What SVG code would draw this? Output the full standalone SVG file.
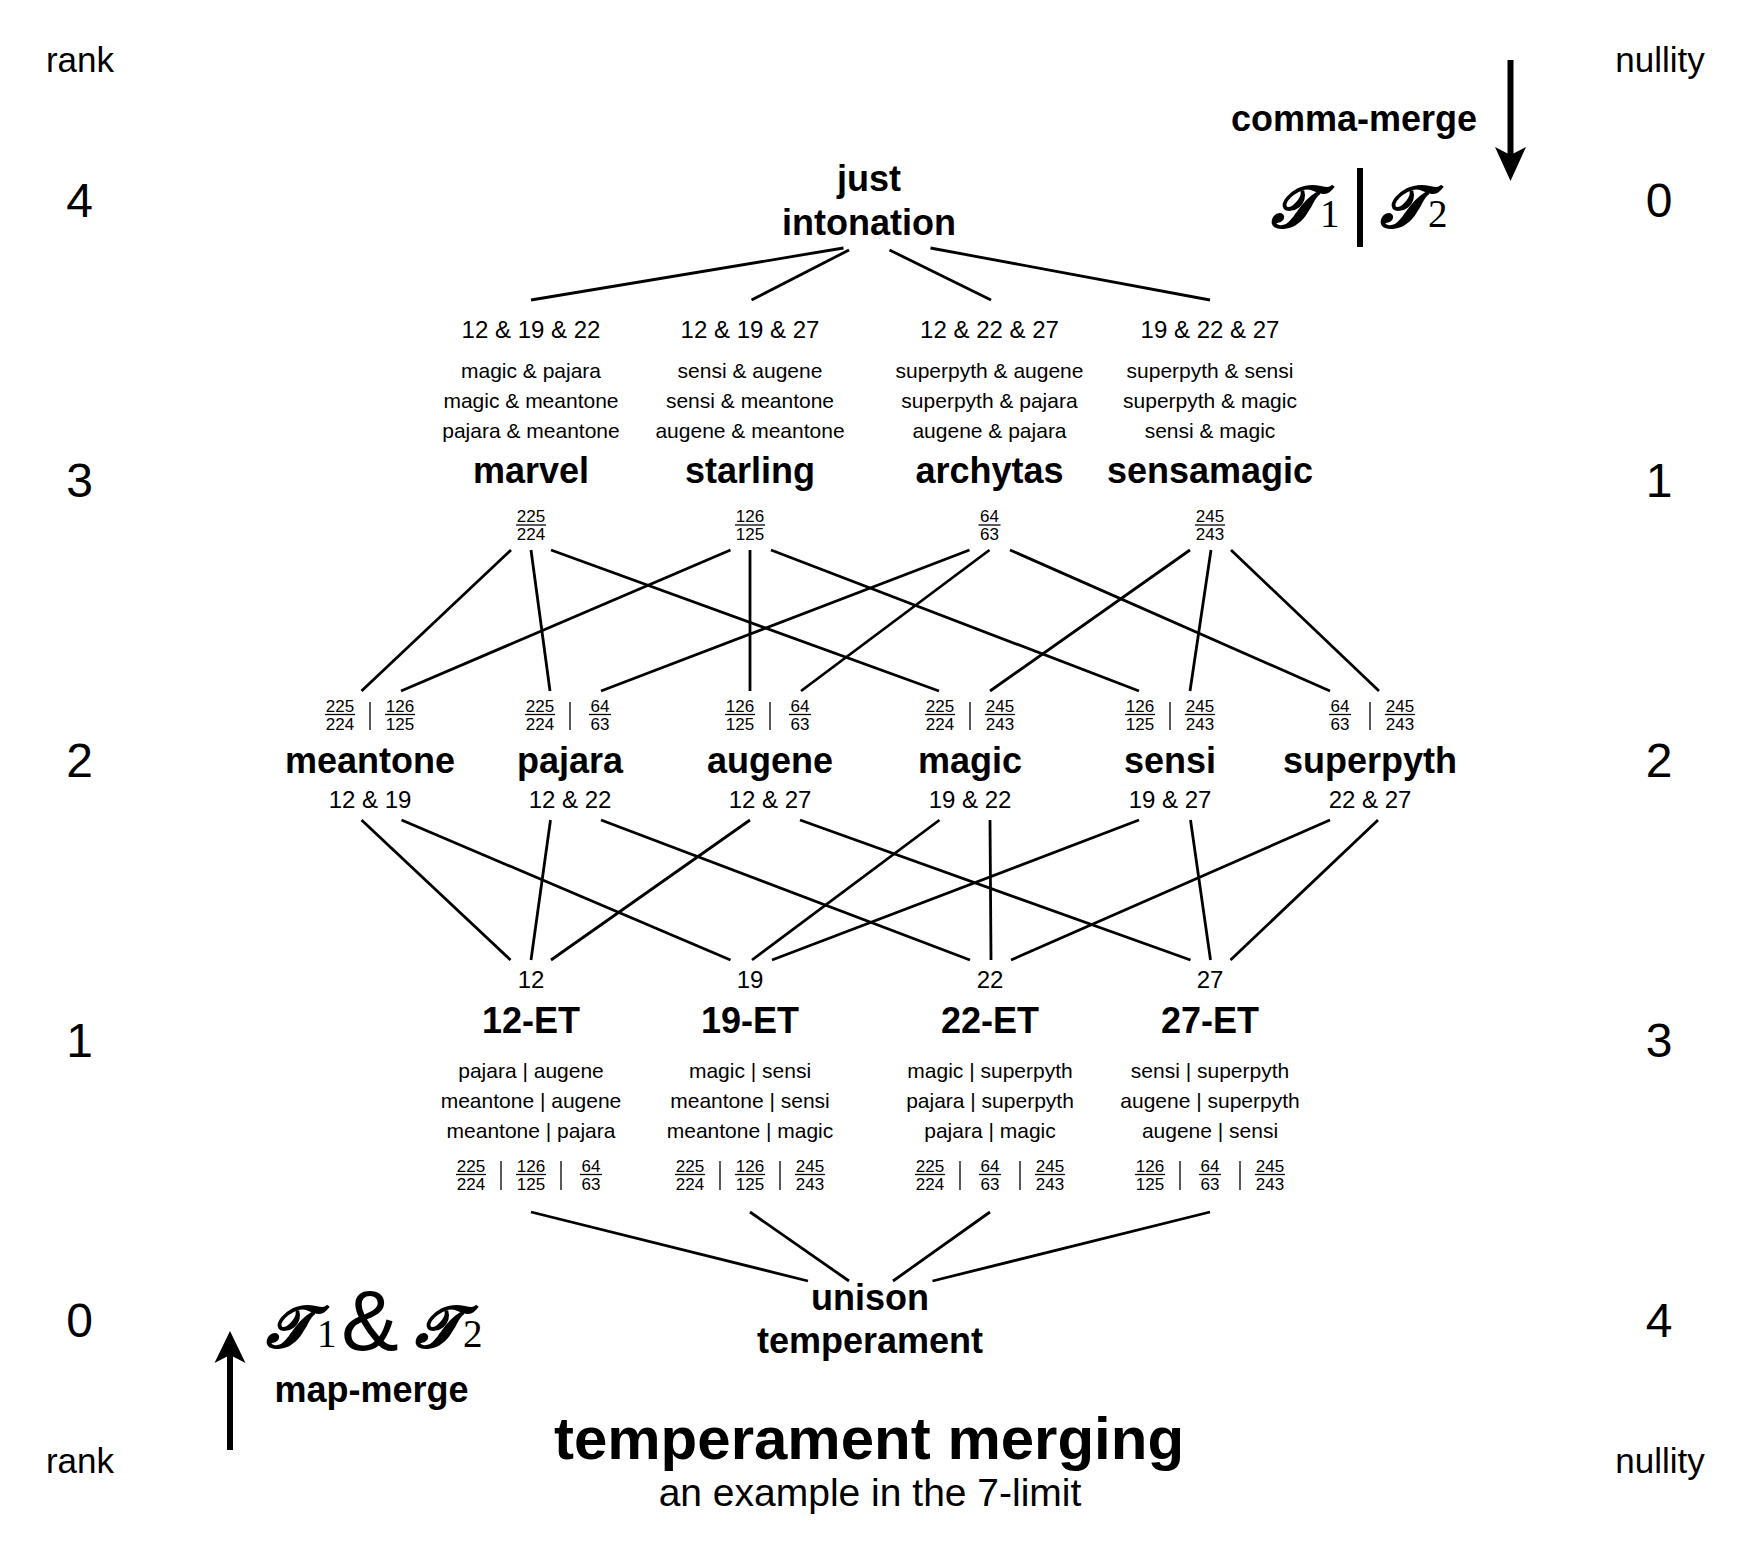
<svg xmlns="http://www.w3.org/2000/svg" width="1752" height="1551" viewBox="0 0 1752 1551">
<style>
text{font-family:"Liberation Sans",Arial,sans-serif;fill:#000}
.c{text-anchor:middle}
.ax{font-size:35px}
.num{font-size:48px}
.b{font-weight:bold;font-size:36px}
.s24{font-size:24px}
.s21{font-size:21px}
.fr{font-size:17px;text-anchor:middle}
.bar,.sep{stroke:#000;stroke-width:1.3}
.edge{stroke:#000;stroke-width:2.8;fill:none}
.math{font-family:"DejaVu Serif","Liberation Serif",serif;font-weight:bold;font-style:italic;font-size:58px}
.sub{font-family:"Liberation Serif","Times New Roman",serif;font-size:39px}
</style>

<g id="axes">
<text class="ax c" x="80" y="72">rank</text>
<text class="ax c" x="80" y="1473">rank</text>
<text class="ax c" x="1660" y="72">nullity</text>
<text class="ax c" x="1660" y="1473">nullity</text>
<text class="num c" x="79.5" y="217">4</text>
<text class="num c" x="79.5" y="497">3</text>
<text class="num c" x="79.5" y="777">2</text>
<text class="num c" x="79.5" y="1057">1</text>
<text class="num c" x="79.5" y="1337">0</text>
<text class="num c" x="1659" y="217">0</text>
<text class="num c" x="1659" y="497">1</text>
<text class="num c" x="1659" y="777">2</text>
<text class="num c" x="1659" y="1057">3</text>
<text class="num c" x="1659" y="1337">4</text>
</g>

<g id="comma-merge">
<text class="b c" x="1354" y="131">comma-merge</text>
<line x1="1510.5" y1="60" x2="1510.5" y2="158" stroke="#000" stroke-width="6"/>
<path d="M1495,147 L1510.5,155 L1526,147 L1510.5,181 Z" fill="#000"/>
<text class="math" x="1271" y="227">𝓣</text>
<text class="sub" x="1320" y="227">1</text>
<line x1="1360" y1="168" x2="1360" y2="247" stroke="#000" stroke-width="6"/>
<text class="math" x="1380" y="227">𝓣</text>
<text class="sub" x="1428" y="227">2</text>
</g>

<g id="map-merge">
<line x1="230" y1="1450" x2="230" y2="1355" stroke="#000" stroke-width="6"/>
<path d="M214.5,1363 L230,1355 L245.5,1363 L230,1331 Z" fill="#000"/>
<text class="math" x="266" y="1347">𝓣</text>
<text class="sub" x="317" y="1347">1</text>
<text x="370" y="1350" style="font-size:86px" class="c">&amp;</text>
<text class="math" x="415" y="1347">𝓣</text>
<text class="sub" x="463" y="1347">2</text>
<text class="b c" x="371.5" y="1402">map-merge</text>
</g>

<g id="title">
<text class="c" x="869" y="1459" style="font-size:60px;font-weight:bold">temperament merging</text>
<text class="c" x="870" y="1506" style="font-size:39px">an example in the 7-limit</text>
</g>

<g id="connectors">
<line class="edge" x1="843.5" y1="248" x2="531" y2="300"/>
<line class="edge" x1="849" y1="250" x2="751.5" y2="300"/>
<line class="edge" x1="889.5" y1="250" x2="991" y2="300"/>
<line class="edge" x1="930.5" y1="248" x2="1210" y2="300"/>

<line class="edge" x1="511" y1="550" x2="361.5" y2="691"/>
<line class="edge" x1="531" y1="550" x2="550" y2="691"/>
<line class="edge" x1="551" y1="550" x2="939" y2="691"/>
<line class="edge" x1="730.5" y1="550" x2="401" y2="691"/>
<line class="edge" x1="750" y1="550" x2="750" y2="691"/>
<line class="edge" x1="771" y1="550" x2="1139" y2="691"/>
<line class="edge" x1="969.5" y1="550" x2="601" y2="691"/>
<line class="edge" x1="989.5" y1="550" x2="801" y2="691"/>
<line class="edge" x1="1010" y1="550" x2="1330" y2="691"/>
<line class="edge" x1="1190" y1="550" x2="990" y2="691"/>
<line class="edge" x1="1211" y1="550" x2="1190" y2="691"/>
<line class="edge" x1="1231" y1="550" x2="1379" y2="691"/>

<line class="edge" x1="361.5" y1="820" x2="510.5" y2="960"/>
<line class="edge" x1="401.5" y1="820" x2="730.5" y2="960"/>
<line class="edge" x1="550.5" y1="820" x2="531" y2="960"/>
<line class="edge" x1="601" y1="820" x2="970" y2="960"/>
<line class="edge" x1="750" y1="820" x2="551" y2="960"/>
<line class="edge" x1="800" y1="820" x2="1190.5" y2="960"/>
<line class="edge" x1="939.5" y1="820" x2="752" y2="960"/>
<line class="edge" x1="990" y1="820" x2="991" y2="960"/>
<line class="edge" x1="1139" y1="820" x2="772" y2="960"/>
<line class="edge" x1="1190.5" y1="820" x2="1210.5" y2="960"/>
<line class="edge" x1="1330" y1="820" x2="1011" y2="960"/>
<line class="edge" x1="1378" y1="820" x2="1230.5" y2="960"/>

<line class="edge" x1="531" y1="1212" x2="808" y2="1281"/>
<line class="edge" x1="750" y1="1212" x2="849" y2="1281"/>
<line class="edge" x1="990" y1="1212" x2="893" y2="1281"/>
<line class="edge" x1="1210" y1="1212" x2="932.5" y2="1281"/>
</g>

<g id="just-intonation">
<text class="b c" x="869" y="191">just</text>
<text class="b c" x="869" y="235">intonation</text>
</g>

<g id="marvel">
<text class="s24 c" x="531" y="338">12 &amp; 19 &amp; 22</text>
<text class="s21 c" x="531" y="378">magic &amp; pajara</text>
<text class="s21 c" x="531" y="408">magic &amp; meantone</text>
<text class="s21 c" x="531" y="438">pajara &amp; meantone</text>
<text class="b c" x="531" y="483">marvel</text>
<text class="fr" x="531" y="521.5">225</text><line class="bar" x1="516" y1="525" x2="546" y2="525"/><text class="fr" x="531" y="540">224</text>
</g>
<g id="starling">
<text class="s24 c" x="750" y="338">12 &amp; 19 &amp; 27</text>
<text class="s21 c" x="750" y="378">sensi &amp; augene</text>
<text class="s21 c" x="750" y="408">sensi &amp; meantone</text>
<text class="s21 c" x="750" y="438">augene &amp; meantone</text>
<text class="b c" x="750" y="483">starling</text>
<text class="fr" x="750" y="521.5">126</text><line class="bar" x1="735" y1="525" x2="765" y2="525"/><text class="fr" x="750" y="540">125</text>
</g>
<g id="archytas">
<text class="s24 c" x="989.5" y="338">12 &amp; 22 &amp; 27</text>
<text class="s21 c" x="989.5" y="378">superpyth &amp; augene</text>
<text class="s21 c" x="989.5" y="408">superpyth &amp; pajara</text>
<text class="s21 c" x="989.5" y="438">augene &amp; pajara</text>
<text class="b c" x="989.5" y="483">archytas</text>
<text class="fr" x="989.5" y="521.5">64</text><line class="bar" x1="978.5" y1="525" x2="1000.5" y2="525"/><text class="fr" x="989.5" y="540">63</text>
</g>
<g id="sensamagic">
<text class="s24 c" x="1210" y="338">19 &amp; 22 &amp; 27</text>
<text class="s21 c" x="1210" y="378">superpyth &amp; sensi</text>
<text class="s21 c" x="1210" y="408">superpyth &amp; magic</text>
<text class="s21 c" x="1210" y="438">sensi &amp; magic</text>
<text class="b c" x="1210" y="483">sensamagic</text>
<text class="fr" x="1210" y="521.5">245</text><line class="bar" x1="1195" y1="525" x2="1225" y2="525"/><text class="fr" x="1210" y="540">243</text>
</g>

<g id="meantone">
<text class="fr" x="340" y="711.5">225</text><line class="bar" x1="325" y1="714.5" x2="355" y2="714.5"/><text class="fr" x="340" y="730">224</text>
<line class="sep" x1="370" y1="702" x2="370" y2="730"/>
<text class="fr" x="400" y="711.5">126</text><line class="bar" x1="385" y1="714.5" x2="415" y2="714.5"/><text class="fr" x="400" y="730">125</text>
<text class="b c" x="370" y="773">meantone</text>
<text class="s24 c" x="370" y="808">12 &amp; 19</text>
</g>
<g id="pajara">
<text class="fr" x="540" y="711.5">225</text><line class="bar" x1="525" y1="714.5" x2="555" y2="714.5"/><text class="fr" x="540" y="730">224</text>
<line class="sep" x1="570" y1="702" x2="570" y2="730"/>
<text class="fr" x="600" y="711.5">64</text><line class="bar" x1="589" y1="714.5" x2="611" y2="714.5"/><text class="fr" x="600" y="730">63</text>
<text class="b c" x="570" y="773">pajara</text>
<text class="s24 c" x="570" y="808">12 &amp; 22</text>
</g>
<g id="augene">
<text class="fr" x="740" y="711.5">126</text><line class="bar" x1="725" y1="714.5" x2="755" y2="714.5"/><text class="fr" x="740" y="730">125</text>
<line class="sep" x1="770" y1="702" x2="770" y2="730"/>
<text class="fr" x="800" y="711.5">64</text><line class="bar" x1="789" y1="714.5" x2="811" y2="714.5"/><text class="fr" x="800" y="730">63</text>
<text class="b c" x="770" y="773">augene</text>
<text class="s24 c" x="770" y="808">12 &amp; 27</text>
</g>
<g id="magic">
<text class="fr" x="940" y="711.5">225</text><line class="bar" x1="925" y1="714.5" x2="955" y2="714.5"/><text class="fr" x="940" y="730">224</text>
<line class="sep" x1="970" y1="702" x2="970" y2="730"/>
<text class="fr" x="1000" y="711.5">245</text><line class="bar" x1="985" y1="714.5" x2="1015" y2="714.5"/><text class="fr" x="1000" y="730">243</text>
<text class="b c" x="970" y="773">magic</text>
<text class="s24 c" x="970" y="808">19 &amp; 22</text>
</g>
<g id="sensi">
<text class="fr" x="1140" y="711.5">126</text><line class="bar" x1="1125" y1="714.5" x2="1155" y2="714.5"/><text class="fr" x="1140" y="730">125</text>
<line class="sep" x1="1170" y1="702" x2="1170" y2="730"/>
<text class="fr" x="1200" y="711.5">245</text><line class="bar" x1="1185" y1="714.5" x2="1215" y2="714.5"/><text class="fr" x="1200" y="730">243</text>
<text class="b c" x="1170" y="773">sensi</text>
<text class="s24 c" x="1170" y="808">19 &amp; 27</text>
</g>
<g id="superpyth">
<text class="fr" x="1340" y="711.5">64</text><line class="bar" x1="1329" y1="714.5" x2="1351" y2="714.5"/><text class="fr" x="1340" y="730">63</text>
<line class="sep" x1="1370" y1="702" x2="1370" y2="730"/>
<text class="fr" x="1400" y="711.5">245</text><line class="bar" x1="1385" y1="714.5" x2="1415" y2="714.5"/><text class="fr" x="1400" y="730">243</text>
<text class="b c" x="1370" y="773">superpyth</text>
<text class="s24 c" x="1370" y="808">22 &amp; 27</text>
</g>

<g id="et12">
<text class="s24 c" x="531" y="988">12</text>
<text class="b c" x="531" y="1033">12-ET</text>
<text class="s21 c" x="531" y="1078">pajara | augene</text>
<text class="s21 c" x="531" y="1108">meantone | augene</text>
<text class="s21 c" x="531" y="1138">meantone | pajara</text>
<text class="fr" x="471" y="1171.5">225</text><line class="bar" x1="456" y1="1174.5" x2="486" y2="1174.5"/><text class="fr" x="471" y="1190">224</text>
<line class="sep" x1="501" y1="1161" x2="501" y2="1190"/>
<text class="fr" x="531" y="1171.5">126</text><line class="bar" x1="516" y1="1174.5" x2="546" y2="1174.5"/><text class="fr" x="531" y="1190">125</text>
<line class="sep" x1="561" y1="1161" x2="561" y2="1190"/>
<text class="fr" x="591" y="1171.5">64</text><line class="bar" x1="580" y1="1174.5" x2="602" y2="1174.5"/><text class="fr" x="591" y="1190">63</text>
</g>
<g id="et19">
<text class="s24 c" x="750" y="988">19</text>
<text class="b c" x="750" y="1033">19-ET</text>
<text class="s21 c" x="750" y="1078">magic | sensi</text>
<text class="s21 c" x="750" y="1108">meantone | sensi</text>
<text class="s21 c" x="750" y="1138">meantone | magic</text>
<text class="fr" x="690" y="1171.5">225</text><line class="bar" x1="675" y1="1174.5" x2="705" y2="1174.5"/><text class="fr" x="690" y="1190">224</text>
<line class="sep" x1="720" y1="1161" x2="720" y2="1190"/>
<text class="fr" x="750" y="1171.5">126</text><line class="bar" x1="735" y1="1174.5" x2="765" y2="1174.5"/><text class="fr" x="750" y="1190">125</text>
<line class="sep" x1="780" y1="1161" x2="780" y2="1190"/>
<text class="fr" x="810" y="1171.5">245</text><line class="bar" x1="795" y1="1174.5" x2="825" y2="1174.5"/><text class="fr" x="810" y="1190">243</text>
</g>
<g id="et22">
<text class="s24 c" x="990" y="988">22</text>
<text class="b c" x="990" y="1033">22-ET</text>
<text class="s21 c" x="990" y="1078">magic | superpyth</text>
<text class="s21 c" x="990" y="1108">pajara | superpyth</text>
<text class="s21 c" x="990" y="1138">pajara | magic</text>
<text class="fr" x="930" y="1171.5">225</text><line class="bar" x1="915" y1="1174.5" x2="945" y2="1174.5"/><text class="fr" x="930" y="1190">224</text>
<line class="sep" x1="960" y1="1161" x2="960" y2="1190"/>
<text class="fr" x="990" y="1171.5">64</text><line class="bar" x1="979" y1="1174.5" x2="1001" y2="1174.5"/><text class="fr" x="990" y="1190">63</text>
<line class="sep" x1="1020" y1="1161" x2="1020" y2="1190"/>
<text class="fr" x="1050" y="1171.5">245</text><line class="bar" x1="1035" y1="1174.5" x2="1065" y2="1174.5"/><text class="fr" x="1050" y="1190">243</text>
</g>
<g id="et27">
<text class="s24 c" x="1210" y="988">27</text>
<text class="b c" x="1210" y="1033">27-ET</text>
<text class="s21 c" x="1210" y="1078">sensi | superpyth</text>
<text class="s21 c" x="1210" y="1108">augene | superpyth</text>
<text class="s21 c" x="1210" y="1138">augene | sensi</text>
<text class="fr" x="1150" y="1171.5">126</text><line class="bar" x1="1135" y1="1174.5" x2="1165" y2="1174.5"/><text class="fr" x="1150" y="1190">125</text>
<line class="sep" x1="1180" y1="1161" x2="1180" y2="1190"/>
<text class="fr" x="1210" y="1171.5">64</text><line class="bar" x1="1199" y1="1174.5" x2="1221" y2="1174.5"/><text class="fr" x="1210" y="1190">63</text>
<line class="sep" x1="1240" y1="1161" x2="1240" y2="1190"/>
<text class="fr" x="1270" y="1171.5">245</text><line class="bar" x1="1255" y1="1174.5" x2="1285" y2="1174.5"/><text class="fr" x="1270" y="1190">243</text>
</g>

<g id="unison">
<text class="b c" x="870" y="1310">unison</text>
<text class="b c" x="870" y="1353">temperament</text>
</g>
</svg>
